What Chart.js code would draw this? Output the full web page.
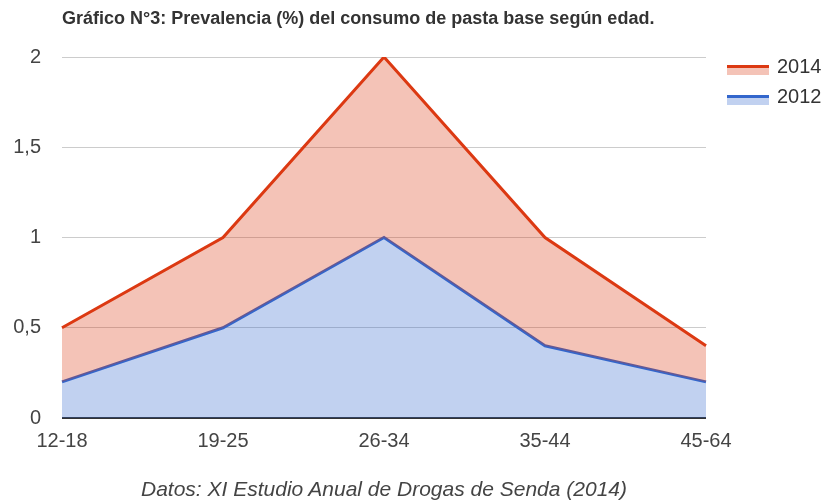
<!DOCTYPE html>
<html>
<head>
<meta charset="utf-8">
<script src="https://cdn.jsdelivr.net/npm/chart.js@4"></script>
<style>
  body { margin: 0; background: #fff; }
  #wrap { position: relative; width: 827px; height: 500px; }
  #title {
    position: absolute; left: 62px; top: 8px; white-space: nowrap;
    font: bold 18px "Liberation Sans", Arial, sans-serif; color: #333;
  }
  #footer {
    position: absolute; left: 62px; width: 644px; top: 477px; text-align: center;
    font: italic 21px "Liberation Sans", Arial, sans-serif; color: #444;
  }
</style>
</head>
<body>
<div id="wrap">
  <canvas id="chart" width="827" height="500"></canvas>
  <div id="title">Gráfico N°3: Prevalencia (%) del consumo de pasta base según edad.</div>
  <div id="footer">Datos: XI Estudio Anual de Drogas de Senda (2014)</div>
</div>
<script>
const edades = ["12-18", "19-25", "26-34", "35-44", "45-64"];
const valores2014 = [0.5, 1, 2, 1, 0.4];
const valores2012 = [0.2, 0.5, 1, 0.4, 0.2];
const yTicks = [0, 0.5, 1, 1.5, 2];

const fuente = "'Liberation Sans', Arial, sans-serif";

// leyenda dibujada a mano (linea + relleno)
const leyendaPlugin = {
  id: "leyenda",
  afterDraw(chart) {
    const ctx = chart.ctx;
    const x = 727;
    chart.data.datasets.forEach((ds, i) => {
      const y = 66 + i * 30;
      ctx.save();
      ctx.fillStyle = ds.backgroundColor;
      ctx.fillRect(x, y, 42, 9);
      ctx.fillStyle = ds.borderColor;
      ctx.fillRect(x, y - 1, 42, 3);
      ctx.fillStyle = "#333";
      ctx.font = "20px " + fuente;
      ctx.textBaseline = "middle";
      ctx.fillText(ds.label, x + 50, y + 1);
      ctx.restore();
    });
  },
};

new Chart(document.getElementById("chart").getContext("2d"), {
  type: "line",
  data: {
    labels: edades,
    datasets: [
      {
        label: "2014",
        data: valores2014,
        borderColor: "#dc3912",
        backgroundColor: "rgba(220, 57, 18, 0.3)",
        borderWidth: 3,
        fill: "+1",
        pointRadius: 0,
        tension: 0,
      },
      {
        label: "2012",
        data: valores2012,
        borderColor: "#3366cc",
        backgroundColor: "rgba(51, 102, 204, 0.3)",
        borderWidth: 3,
        fill: "origin",
        pointRadius: 0,
        tension: 0,
      },
    ],
  },
  options: {
    responsive: false,
    animation: false,
    layout: { padding: { left: 0, right: 121, top: 57, bottom: 0 } },
    plugins: {
      legend: { display: false },
      tooltip: { enabled: false },
    },
    scales: {
      x: {
        afterFit(scale) { scale.height = 82; },
        grid: { display: false, drawTicks: false },
        border: { display: false },
        ticks: {
          color: "#444",
          padding: 11,
          maxRotation: 0,
          autoSkip: false,
          font: { size: 20, family: fuente },
        },
      },
      y: {
        min: 0,
        max: 2,
        afterFit(scale) { scale.width = 62; },
        afterBuildTicks(scale) {
          scale.ticks = yTicks.map((v) => ({ value: v }));
        },
        grid: {
          drawTicks: false,
          color: (c) => (c.tick && c.tick.value === 0 ? "#333" : "#cccccc"),
          lineWidth: (c) => (c.tick && c.tick.value === 0 ? 2 : 1),
        },
        border: { display: false },
        ticks: {
          color: "#444",
          padding: 21,
          font: { size: 20, family: fuente },
          callback: (v) => String(v).replace(".", ","),
        },
      },
    },
  },
  plugins: [leyendaPlugin],
});
</script>
</body>
</html>
